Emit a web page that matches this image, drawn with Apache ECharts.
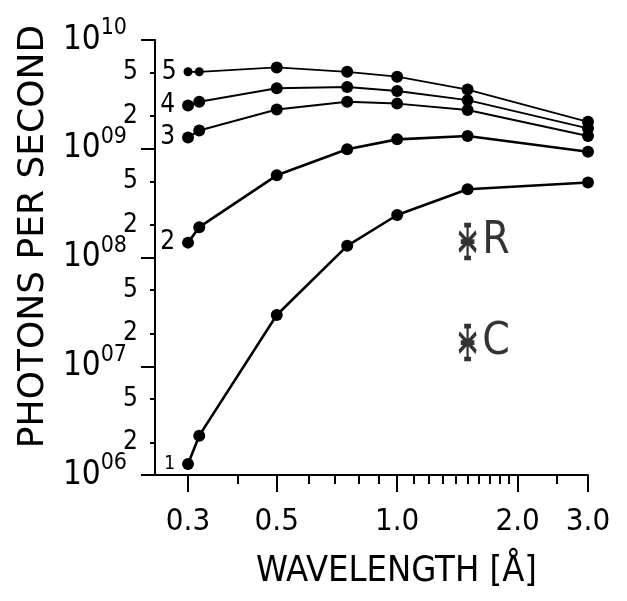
<!DOCTYPE html>
<html>
<head>
<meta charset="utf-8">
<title>Photons per second vs wavelength</title>
<script src="https://cdn.jsdelivr.net/npm/echarts@6/dist/echarts.min.js"></script>
<style>
  html, body { margin: 0; padding: 0; background: #fff; }
  #chart { width: 627px; height: 601px; }
</style>
</head>
<body>
<div id="chart"></div>
<script>
// wavelengths (Å) at which every curve was measured
const wavelengths = [0.3, 0.32, 0.5, 0.75, 1.0, 1.5, 3.0];

// photons per second for curves 1..5
const curve1 = [1.26e6, 2.3e6, 2.96e7, 1.28e8, 2.46e8, 4.24e8, 4.9e8];
const curve2 = [1.37e8, 1.9e8, 5.7e8, 9.9e8, 1.22e9, 1.31e9, 9.4e8];
const curve3 = [1.27e9, 1.47e9, 2.3e9, 2.7e9, 2.6e9, 2.27e9, 1.31e9];
const curve4 = [2.5e9, 2.7e9, 3.6e9, 3.7e9, 3.4e9, 2.8e9, 1.54e9];
const curve5 = [5.1e9, 5.1e9, 5.6e9, 5.1e9, 4.6e9, 3.5e9, 1.77e9];
const curveNames = ['1', '2', '3', '4', '5'];

// the two single sources drawn as asterisks
const sourceNames = ['R', 'C'];
const sourceWavelengths = [1.5, 1.5];
const sourcePhotons = [1.4e8, 1.65e7];

// axis ticks
const xMin = 0.2315, xMax = 3.0;
const xMajorTicks = [0.3, 0.5, 1.0, 2.0, 3.0];
const xMajorLabels = ['0.3', '0.5', '1.0', '2.0', '3.0'];
const xMinorTicks = [0.4, 0.6, 0.7, 0.8, 0.9, 1.1, 1.2, 1.3, 1.4, 1.5, 1.6, 1.7, 1.8, 1.9, 2.5];
const yDecades = [6, 7, 8, 9, 10];
const yDecadeLabels = ['06', '07', '08', '09', '10'];
const yMinorMultipliers = [2, 5];

const lg = Math.log10;
const NARROW = '"Liberation Sans Narrow", "DejaVu Sans Condensed", sans-serif';
const COND = '"DejaVu Sans Condensed", "DejaVu Sans", sans-serif';

const yMinorTicks = [];
yDecades.slice(0, -1).forEach(d => yMinorMultipliers.forEach(m => yMinorTicks.push(d + lg(m))));

const chart = echarts.init(document.getElementById('chart'));

function curveSeries(values, idx, opts) {
  opts = opts || {};
  const data = wavelengths.map((w, i) => {
    const item = { value: [lg(w), lg(values[i])] };
    if (i < (opts.small || 0)) {
      // curve 5 starts with two smaller dots
      item.symbolSize = 9;
    }
    if (i === 0) {
      item.label = {
        show: true, position: 'left', distance: 7,
        formatter: curveNames[idx],
        fontFamily: COND, fontSize: opts.labelSize || 26, color: '#000'
      };
    }
    return item;
  });
  return {
    name: curveNames[idx],
    type: 'line',
    data: data,
    symbol: 'circle',
    symbolSize: 12,
    itemStyle: { color: '#000' },
    lineStyle: { color: '#000', width: opts.width || 2.6 },
    z: 3
  };
}

const asterisk = 'path://M8,0 L8,34 M5,1 L11,1 M5,33 L11,33 M0.5,8 L15.5,26 M15.5,8 L0.5,26 M2,17 L14,17';

const option = {
  backgroundColor: '#fff',
  animation: false,
  grid: { left: 143, right: 39, top: 40, bottom: 126, containLabel: false },
  xAxis: [
    {
      type: 'value', position: 'bottom', min: lg(xMin), max: lg(xMax),
      axisLine: { onZero: false, lineStyle: { color: '#000', width: 2 } },
      axisTick: { customValues: xMajorTicks.map(lg), length: 17, lineStyle: { color: '#000', width: 2 } },
      axisLabel: {
        customValues: xMajorTicks.map(lg), margin: 31,
        fontFamily: COND, fontSize: 31, color: '#000',
        formatter: v => {
          const i = xMajorTicks.findIndex(t => Math.abs(lg(t) - v) < 1e-6);
          return i < 0 ? '' : xMajorLabels[i];
        }
      },
      splitLine: { show: false },
      name: 'WAVELENGTH [Å]', nameLocation: 'middle', nameGap: 79,
      nameTextStyle: { fontFamily: NARROW, fontSize: 36, color: '#000', padding: [0, 0, 0, 62] }
    },
    {
      type: 'value', position: 'bottom', min: lg(xMin), max: lg(xMax),
      axisLine: { show: false },
      axisTick: { customValues: xMinorTicks.map(lg), length: 9, lineStyle: { color: '#000', width: 2 } },
      axisLabel: { show: false },
      splitLine: { show: false }
    }
  ],
  yAxis: [
    {
      type: 'value', position: 'left', offset: -12, min: 6, max: 10,
      axisLine: { onZero: false, lineStyle: { color: '#000', width: 2 } },
      axisTick: { customValues: yDecades, length: 14, lineStyle: { color: '#000', width: 2 } },
      axisLabel: {
        customValues: yDecades, margin: 17,
        formatter: v => '{b|10}{s|' + yDecadeLabels[yDecades.indexOf(Math.round(v))] + '}',
        rich: {
          b: { fontFamily: NARROW, fontSize: 33, lineHeight: 46, color: '#000' },
          s: { fontFamily: COND, fontSize: 23, lineHeight: 22, verticalAlign: 'top', color: '#000', padding: [0, 11, 0, 0] }
        }
      },
      splitLine: { show: false },
      name: 'PHOTONS PER SECOND', nameLocation: 'middle', nameGap: 100,
      nameTextStyle: { fontFamily: '"DejaVu Sans", sans-serif', fontSize: 36, color: '#000', padding: [0, 0, 0, 42] }
    },
    {
      type: 'value', position: 'left', offset: -12, min: 6, max: 10,
      axisLine: { show: false, onZero: false },
      axisTick: { customValues: yMinorTicks, length: 5, lineStyle: { color: '#000', width: 2 } },
      axisLabel: {
        customValues: yMinorTicks, margin: 17,
        fontFamily: COND, fontSize: 26, color: '#000',
        formatter: v => String(Math.round(Math.pow(10, v - Math.floor(v + 1e-9))))
      },
      splitLine: { show: false }
    }
  ],
  series: [
    curveSeries(curve1, 0, { labelSize: 19 }),
    curveSeries(curve2, 1),
    curveSeries(curve3, 2, { width: 2 }),
    curveSeries(curve4, 3, { width: 2 }),
    curveSeries(curve5, 4, { width: 1.8, small: 2 }),
    {
      name: 'sources',
      type: 'scatter',
      data: sourceWavelengths.map((w, i) => [lg(w), lg(sourcePhotons[i])]),
      symbol: asterisk,
      symbolSize: [17, 35],
      symbolKeepAspect: false,
      itemStyle: { color: '#000', borderColor: '#000', borderWidth: 3.2 },
      label: {
        show: true, position: 'right', distance: 5,
        formatter: p => sourceNames[p.dataIndex],
        fontFamily: NARROW, fontSize: 44, color: '#000'
      }
    }
  ]
};

chart.setOption(option);
</script>
</body>
</html>
